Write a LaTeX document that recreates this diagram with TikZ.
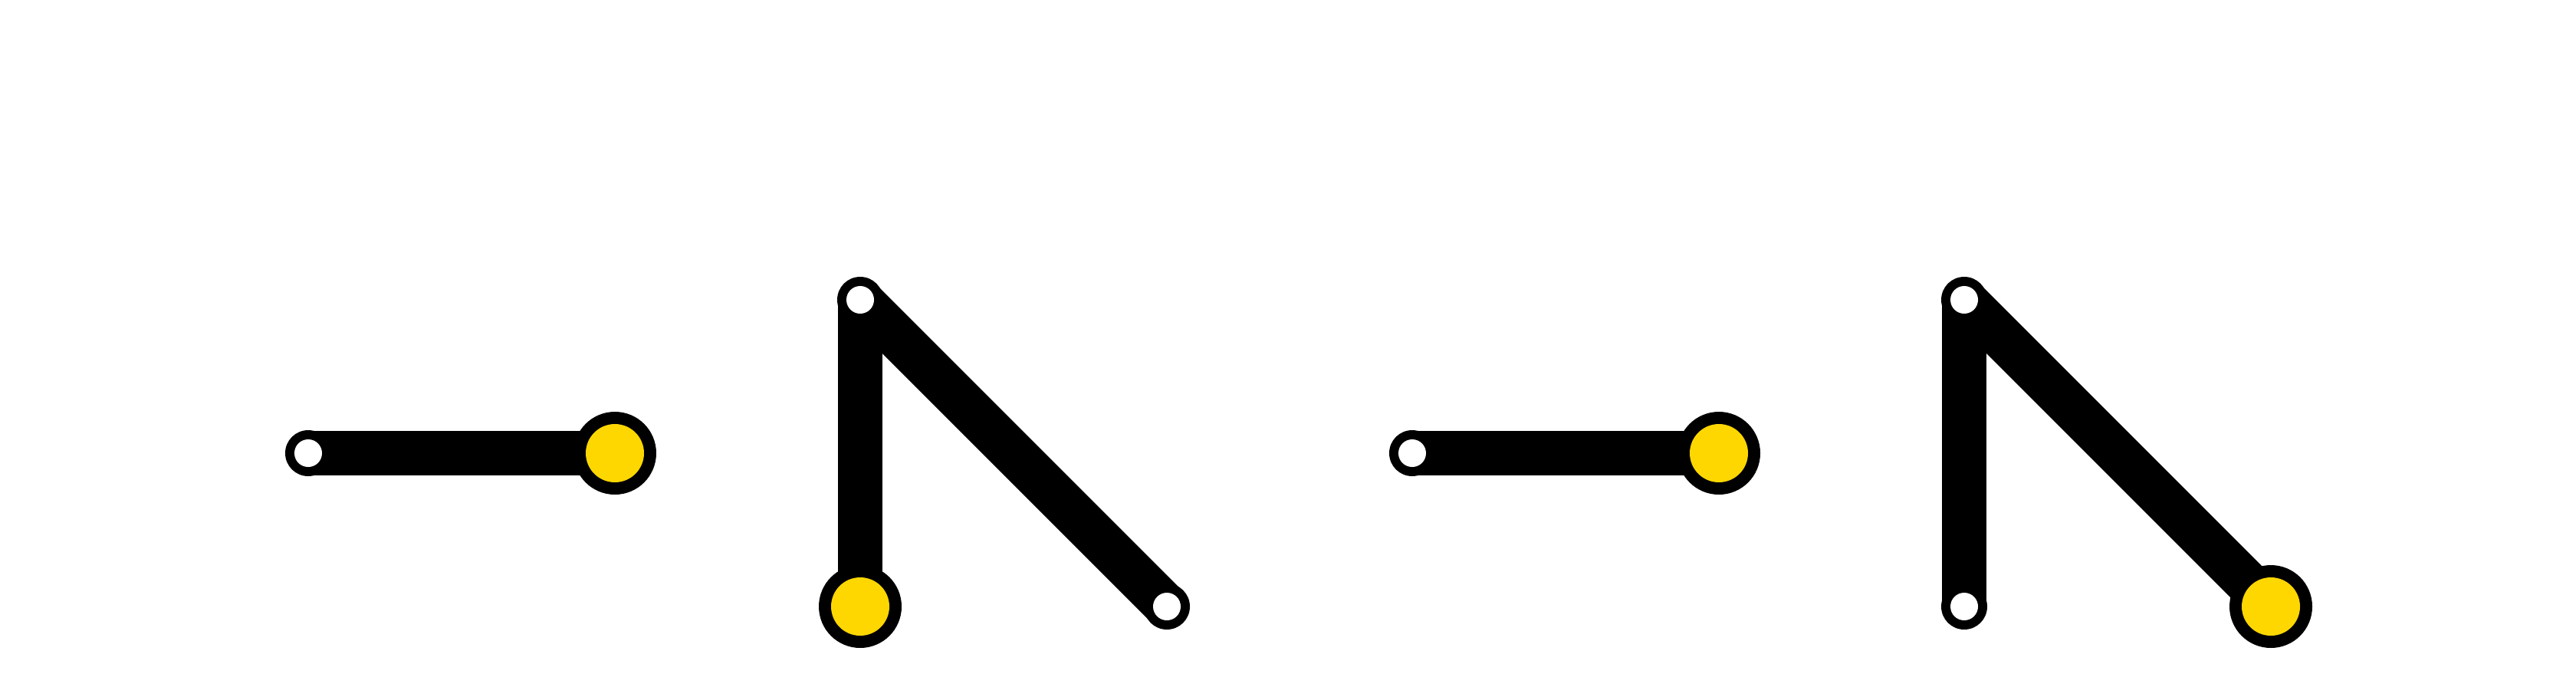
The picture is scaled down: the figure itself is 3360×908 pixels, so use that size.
\documentclass[tikz,border=0pt]{standalone}
\usetikzlibrary{calc}
\definecolor{jointyellow}{RGB}{255,215,0}
\tikzset{
  barfill/.style={fill=black},
  ringfill/.style={fill=black},
  holefill/.style={fill=white},
  drivefill/.style={fill=jointyellow}
}
\newcommand{\mypinjoint}[1]{%
  \fill[ringfill] (#1) circle[radius=30];
  \fill[holefill] (#1) circle[radius=18];}
\newcommand{\mydrivejoint}[1]{%
  \fill[ringfill] (#1) circle[radius=54];
  \fill[drivefill] (#1) circle[radius=38];}
\newcommand{\myhlink}[2]{\fill[barfill] ($(#1)+(0,-29)$) rectangle ($(#2)+(0,29)$);}
\newcommand{\myvlink}[2]{\fill[barfill] ($(#1)+(-29,0)$) rectangle ($(#2)+(29,0)$);}
\newcommand{\mydlink}[2]{\fill[barfill] ($(#1)+(20.5,-20.5)$) -- ($(#2)+(20.5,-20.5)$) -- ($(#2)+(-20.5,20.5)$) -- ($(#1)+(-20.5,20.5)$) -- cycle;}
\begin{document}
\begin{tikzpicture}[x=0.01cm,y=-0.01cm]
\useasboundingbox (0,0) rectangle (3360,908);
% joint positions
\coordinate (a1) at (402,591);
\coordinate (b1) at (802,591);
\coordinate (t2) at (1122,391);
\coordinate (y2) at (1122,791);
\coordinate (r2) at (1522,791);
\coordinate (a3) at (1842,591);
\coordinate (b3) at (2242,591);
\coordinate (t4) at (2562,391);
\coordinate (l4) at (2562,791);
\coordinate (y4) at (2962,791);
% links
\myhlink{a1}{b1}
\myvlink{t2}{y2}
\mydlink{t2}{r2}
\myhlink{a3}{b3}
\myvlink{t4}{l4}
\mydlink{t4}{y4}
% joints
\mypinjoint{a1}
\mydrivejoint{b1}
\mypinjoint{t2}
\mydrivejoint{y2}
\mypinjoint{r2}
\mypinjoint{a3}
\mydrivejoint{b3}
\mypinjoint{t4}
\mypinjoint{l4}
\mydrivejoint{y4}
\end{tikzpicture}
\end{document}
